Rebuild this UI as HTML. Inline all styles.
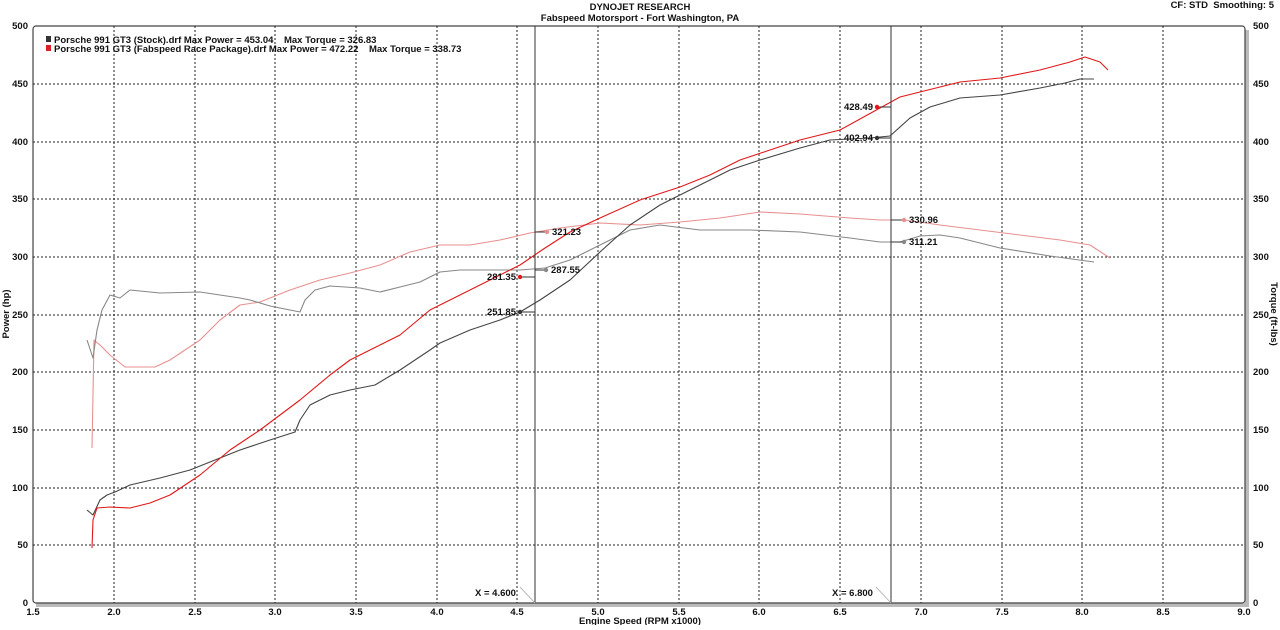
<!DOCTYPE html>
<html><head><meta charset="utf-8"><style>
body{margin:0;background:#fff}
svg text{font-family:"Liberation Sans",sans-serif;font-weight:bold;font-size:9.5px;fill:#111}
</style></head><body>
<svg width="1280" height="625" viewBox="0 0 1280 625" xmlns="http://www.w3.org/2000/svg">
<text x="640" y="10" text-anchor="middle">DYNOJET RESEARCH</text>
<text x="640" y="21" text-anchor="middle">Fabspeed Motorsport - Fort Washington, PA</text>
<text x="1274" y="8" text-anchor="end" xml:space="preserve">CF: STD  Smoothing: 5</text>
<rect x="36" y="603" width="1212" height="4" fill="#bbb"/>
<rect x="1245" y="30" width="4" height="577" fill="#bbb"/>
<rect x="33" y="26" width="1212" height="577" fill="#fff" stroke="#444" stroke-width="1.2" rx="3"/>
<g stroke="#222" stroke-width="1" stroke-dasharray="2,2">
<line x1="33" y1="84" x2="1245" y2="84"/><line x1="33" y1="142" x2="1245" y2="142"/><line x1="33" y1="199" x2="1245" y2="199"/><line x1="33" y1="257" x2="1245" y2="257"/><line x1="33" y1="315" x2="1245" y2="315"/><line x1="33" y1="372" x2="1245" y2="372"/><line x1="33" y1="430" x2="1245" y2="430"/><line x1="33" y1="488" x2="1245" y2="488"/><line x1="33" y1="545" x2="1245" y2="545"/>
<line x1="114" y1="26" x2="114" y2="603"/><line x1="195" y1="26" x2="195" y2="603"/><line x1="275" y1="26" x2="275" y2="603"/><line x1="356" y1="26" x2="356" y2="603"/><line x1="437" y1="26" x2="437" y2="603"/><line x1="517" y1="26" x2="517" y2="603"/><line x1="598" y1="26" x2="598" y2="603"/><line x1="679" y1="26" x2="679" y2="603"/><line x1="759" y1="26" x2="759" y2="603"/><line x1="840" y1="26" x2="840" y2="603"/><line x1="921" y1="26" x2="921" y2="603"/><line x1="1002" y1="26" x2="1002" y2="603"/><line x1="1082" y1="26" x2="1082" y2="603"/><line x1="1163" y1="26" x2="1163" y2="603"/>
</g>
<g>
<text x="28" y="29" text-anchor="end">500</text><text x="28" y="87" text-anchor="end">450</text><text x="28" y="145" text-anchor="end">400</text><text x="28" y="202" text-anchor="end">350</text><text x="28" y="260" text-anchor="end">300</text><text x="28" y="318" text-anchor="end">250</text><text x="28" y="375" text-anchor="end">200</text><text x="28" y="433" text-anchor="end">150</text><text x="28" y="491" text-anchor="end">100</text><text x="28" y="548" text-anchor="end">50</text><text x="28" y="606" text-anchor="end">0</text>
<text x="1253" y="29">500</text><text x="1253" y="87">450</text><text x="1253" y="145">400</text><text x="1253" y="202">350</text><text x="1253" y="260">300</text><text x="1253" y="318">250</text><text x="1253" y="375">200</text><text x="1253" y="433">150</text><text x="1253" y="491">100</text><text x="1253" y="548">50</text><text x="1253" y="606">0</text>
<text x="33" y="615" text-anchor="middle">1.5</text><text x="114" y="615" text-anchor="middle">2.0</text><text x="195" y="615" text-anchor="middle">2.5</text><text x="275" y="615" text-anchor="middle">3.0</text><text x="356" y="615" text-anchor="middle">3.5</text><text x="437" y="615" text-anchor="middle">4.0</text><text x="517" y="615" text-anchor="middle">4.5</text><text x="598" y="615" text-anchor="middle">5.0</text><text x="679" y="615" text-anchor="middle">5.5</text><text x="759" y="615" text-anchor="middle">6.0</text><text x="840" y="615" text-anchor="middle">6.5</text><text x="921" y="615" text-anchor="middle">7.0</text><text x="1002" y="615" text-anchor="middle">7.5</text><text x="1082" y="615" text-anchor="middle">8.0</text><text x="1163" y="615" text-anchor="middle">8.5</text><text x="1244" y="615" text-anchor="middle">9.0</text>
</g>
<text x="640" y="624" text-anchor="middle">Engine Speed (RPM x1000)</text>
<text transform="translate(9,314) rotate(-90)" text-anchor="middle">Power (hp)</text>
<text transform="translate(1271,314) rotate(90)" text-anchor="middle">Torque (ft-lbs)</text>
<rect x="46" y="36" width="5" height="6" fill="#333"/><rect x="46" y="45" width="5" height="6" fill="#e02020"/>
<text x="54" y="43" xml:space="preserve">Porsche 991 GT3 (Stock).drf Max Power = 453.04    Max Torque = 326.83</text>
<text x="54" y="52" xml:space="preserve">Porsche 991 GT3 (Fabspeed Race Package).drf Max Power = 472.22    Max Torque = 338.73</text>
<g fill="none" stroke-width="1.1" stroke-linejoin="round">
<polyline stroke="#e89090" points="92,448 94,340 100,345 110,355 125,367 155,367 170,360 200,340 220,320 240,305 260,302 290,290 320,280 350,273 380,265 410,252 440,245 470,245 500,240 530,233 560,228 600,223 640,225 680,222 720,218 760,212 800,214 850,218 880,220 905,220 940,225 980,230 1020,235 1060,240 1090,245 1110,258"/>
<polyline stroke="#888" points="87,340 93,358 97,330 102,310 110,295 120,298 130,290 160,293 200,292 240,298 250,300 270,306 290,310 300,312 305,300 315,290 330,286 360,288 380,292 400,287 420,282 440,272 460,270 480,270 520,270 545,268 570,260 600,245 630,230 660,225 700,230 750,230 800,232 850,238 880,242 900,242 920,236 940,235 960,238 1000,248 1050,256 1094,262"/>
<polyline stroke="#444" points="87,510 93,515 100,500 107,495 115,492 130,485 160,478 190,470 210,462 240,450 270,440 295,432 300,420 310,405 330,395 350,390 375,385 400,370 430,350 440,343 470,330 500,320 520,312 540,300 570,280 600,252 630,225 660,205 700,185 730,170 760,160 800,148 830,140 870,138 890,136 910,118 930,107 960,98 1000,95 1040,88 1065,83 1080,79 1094,79"/>
<polyline stroke="#e01818" points="92,548 93,520 97,508 110,507 130,508 150,503 170,495 200,475 230,450 260,430 300,400 330,375 350,360 400,335 430,310 460,295 490,280 520,265 545,248 570,232 600,218 640,200 680,187 710,175 740,160 770,150 800,140 840,130 880,108 900,97 940,87 960,82 1000,78 1040,70 1070,62 1085,57 1100,62 1108,70"/>
</g>
<g stroke="#333" stroke-width="1">
<line x1="535" y1="26" x2="535" y2="603"/><line x1="891" y1="26" x2="891" y2="603"/>
<line x1="520" y1="312" x2="535" y2="312"/><line x1="547" y1="232" x2="535" y2="232"/><line x1="546" y1="270" x2="535" y2="270"/><line x1="520" y1="277" x2="535" y2="277"/>
<line x1="877" y1="107" x2="891" y2="107"/><line x1="877" y1="138" x2="891" y2="138"/><line x1="904" y1="220" x2="891" y2="220"/><line x1="904" y1="242" x2="891" y2="242"/>
<line x1="520" y1="587" x2="535" y2="603" stroke="#bbb"/><line x1="876" y1="587" x2="891" y2="603" stroke="#bbb"/>
</g>
<circle cx="520" cy="312" r="2.2" fill="#333"/><circle cx="520" cy="277" r="2.2" fill="#e01818"/><circle cx="547" cy="232" r="2.2" fill="#e89090"/><circle cx="546" cy="270" r="2.2" fill="#888"/>
<circle cx="877" cy="107" r="2.2" fill="#e01818"/><circle cx="877" cy="138" r="2.2" fill="#333"/><circle cx="904" cy="220" r="2.2" fill="#e89090"/><circle cx="904" cy="242" r="2.2" fill="#888"/>
<text x="516" y="315" text-anchor="end">251.85</text><text x="516" y="280" text-anchor="end">281.35</text><text x="552" y="235">321.23</text><text x="551" y="273">287.55</text>
<text x="873" y="110" text-anchor="end">428.49</text><text x="873" y="141" text-anchor="end">402.94</text><text x="909" y="223">330.96</text><text x="909" y="245">311.21</text>
<text x="475" y="596">X = 4.600</text><text x="832" y="596">X = 6.800</text>
</svg>
</body></html>
